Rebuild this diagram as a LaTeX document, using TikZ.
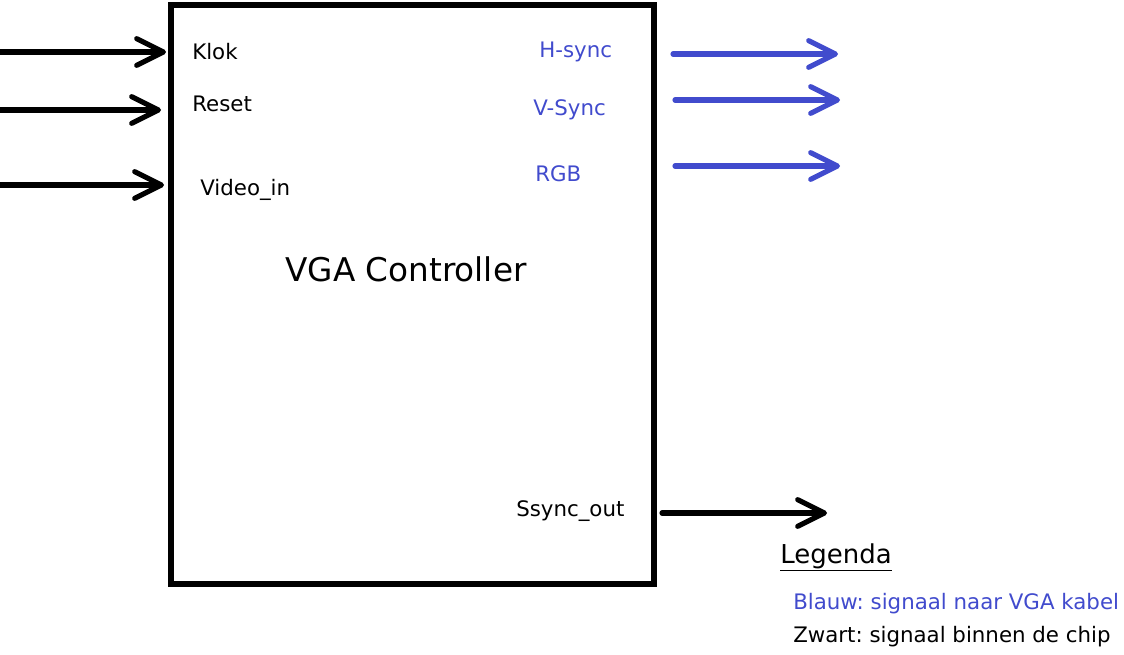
\documentclass[tikz,border=0pt]{standalone}
\usepackage{fontspec}
\setmainfont{DejaVu Sans}
\frenchspacing
\usetikzlibrary{arrows.meta,positioning}
\definecolor{vgablue}{RGB}{65,75,205}
\tikzset{sig/.style={-{Straight Barb[length=20pt,width=20pt,round]}, line width=3.9pt, line cap=round},
         bsig/.style={sig, draw=vgablue},
         lbl/.style={anchor=base west, inner sep=0pt, font=\fontsize{16}{19}\selectfont},
         blbl/.style={lbl, text=vgablue}
}

\begin{document}
\begin{tikzpicture}[x=0.75pt,y=-0.75pt]
  \useasboundingbox (0,0) rectangle (1124,655);
  % the chip
  \draw[line width=3.9pt] (171,5) rectangle (654,584);
  \node[font=\fontsize{24.5}{28}\selectfont, anchor=base] (title) at (406,282) {VGA Controller};
  % inputs
  \node[lbl] (klok)  at (192,60)  {Klok};
  \node[lbl] (reset) at (192,112) {Reset};
  \node[lbl] (video) at (200,196) {Video\_in};
  \coordinate (klokA) at (0,52);   \coordinate (klokB) at (166,52);
  \coordinate (resetA) at (0,110); \coordinate (resetB) at (161,110);
  \coordinate (videoA) at (0,185); \coordinate (videoB) at (164,185);
  \draw[sig] (klokA) -- (klokB);
  \draw[sig] (resetA) -- (resetB);
  \draw[sig] (videoA) -- (videoB);
  % outputs to the cable
  \node[blbl] (hsync) at (539,58)  {H-sync};
  \node[blbl] (vsync) at (533,116) {V-Sync};
  \node[blbl] (rgb)   at (535,182) {RGB};
  \coordinate (hsyncA) at (673,54);  \coordinate (hsyncB) at (838,54);
  \coordinate (vsyncA) at (675,100); \coordinate (vsyncB) at (840,100);
  \coordinate (rgbA) at (675,166);   \coordinate (rgbB) at (840,166);
  \draw[bsig] (hsyncA) -- (hsyncB);
  \draw[bsig] (vsyncA) -- (vsyncB);
  \draw[bsig] (rgbA) -- (rgbB);
  % output inside the chip
  \node[lbl] (ssync) at (516,517) {Ssync\_out};
  \coordinate (ssyncA) at (662,513); \coordinate (ssyncB) at (827,513);
  \draw[sig] (ssyncA) -- (ssyncB);
  % legend
  \node[lbl, font=\fontsize{19.5}{23}\selectfont] (leg) at (780,563) {\underline{Legenda}};
  \node[blbl] (blauw) at (793,609) {Blauw: signaal naar VGA kabel};
  \node[lbl]  (zwart) at (793,642) {Zwart: signaal binnen de chip};
\end{tikzpicture}
\end{document}
